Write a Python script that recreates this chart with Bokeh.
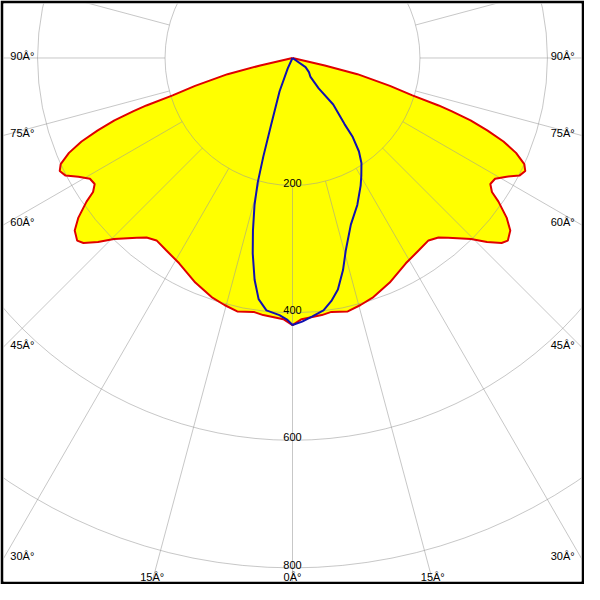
import numpy as np
from bokeh.plotting import figure
from bokeh.embed import file_html
from bokeh.resources import INLINE
from bokeh.core.properties import value

# ---------------- data (gamma in degrees, intensity in cd) ----------------
red_gamma = [0, 2, 6.5, 8.7, 12.3, 15.4, 18.7, 23.4, 28.9, 33.3, 36.7, 39.1, 40.9,
             44.6, 46.6, 48.5, 49.7, 51.6, 53.3, 55.1, 56.1, 57.5, 59.2, 61.0, 62.6,
             64.1, 65.4, 67.0, 68.4, 69.6, 70.7, 71.5, 72.0, 72.7, 74.0, 76.0, 77.0, 80.0]
red_cd = [419, 410, 406, 403, 407, 402, 396, 384, 368, 361, 357, 363, 373,
          399, 420, 438, 443, 436, 419, 394, 377, 368, 370, 384, 401,
          406, 400, 381, 356, 326, 296, 263, 241, 197, 159, 105, 52, 0]

blue_left_gamma = [0, 1.1, 2.9, 5.9, 8.0, 9.7, 11.5, 12.9, 14.5, 15.6, 16.5, 17.8, 21.2, 24.4, 27]
blue_left_cd = [419, 411, 404, 398, 382, 353, 313, 278, 238, 203, 161, 109, 56, 18, 0]

blue_right_gamma = [0, 2.1, 4.3, 7.0, 9.1, 11.1, 13.4, 15.5, 19.3, 23.8, 28.1, 30.3, 33.3,
                    35.4, 37.3, 38.2, 41.2, 40.7, 43.5, 49.4, 55, 60]
blue_right_cd = [419, 414, 407, 399, 386, 370, 342, 313, 277, 252, 227, 214, 197,
                 180, 156, 132, 97, 63, 41, 34, 25, 0]

ring_values = [200, 400, 600, 800]
ring_labels = ["200", "400", "600", "800"]
spoke_angles = list(range(0, 360, 15))
angle_label_values = [0, 15, 30, 45, 60, 75, 90]

# ---------------- layout ----------------
SCALE = 0.655            # reference px per cd
REF = 1.0 / SCALE        # cd per reference px
X_MAX = 297 * REF
Y_TOP = 56 * REF
Y_BOT = -538 * REF
FONT = value("Liberation Sans")


def polar(g, r, side=1):
    g = np.radians(np.asarray(g, dtype=float))
    r = np.asarray(r, dtype=float)
    return side * r * np.sin(g), -r * np.cos(g)


p = figure(width=584, height=584, x_range=(-X_MAX, X_MAX), y_range=(Y_BOT, Y_TOP),
           output_backend="svg", toolbar_location=None, min_border=3,
           border_fill_color="black", background_fill_color="white",
           outline_line_color=None, x_axis_location=None, y_axis_location=None)
p.grid.visible = False

# red / yellow curve (symmetric)
lx, ly = polar(red_gamma[::-1], red_cd[::-1], -1)
rx, ry = polar(red_gamma[1:], red_cd[1:], 1)
red_x = np.concatenate([lx, rx])
red_y = np.concatenate([ly, ry])
p.patch(red_x, red_y, fill_color="#ffff00", line_color=None)

# grid
grid_color = "#999999"
grid_alpha = 0.55
p.circle(x=[0] * len(ring_values), y=[0] * len(ring_values), radius=ring_values,
         fill_color=None, line_color=grid_color, line_alpha=grid_alpha, line_width=1)
sa = np.radians(spoke_angles)
p.segment(x0=200 * np.sin(sa), y0=-200 * np.cos(sa), x1=1500 * np.sin(sa), y1=-1500 * np.cos(sa),
          line_color=grid_color, line_alpha=grid_alpha, line_width=1)

# curves
p.line(red_x, red_y, line_color="#e00000", line_width=2)
bx1, by1 = polar(blue_left_gamma[::-1], blue_left_cd[::-1], -1)
bx2, by2 = polar(blue_right_gamma[1:], blue_right_cd[1:], 1)
p.line(np.concatenate([bx1, bx2]), np.concatenate([by1, by2]), line_color="#1010b0", line_width=2)

# ring labels
p.text(x=[0] * len(ring_values), y=[-r + 3 * REF for r in ring_values], text=ring_labels,
       text_align="center", text_baseline="alphabetic", text_font=FONT,
       text_font_size="11px", text_color="black")

# angle labels
tx, ty, tt, ta = [], [], [], []
for a in angle_label_values:
    sides = [1] if a == 0 else [-1, 1]
    s, c = np.sin(np.radians(a)), np.cos(np.radians(a))
    for side in sides:
        t_side = X_MAX / s if s > 1e-9 else np.inf
        t_bot = -Y_BOT / c if c > 1e-9 else np.inf
        label = f"{a}\u00c2\u00b0"
        if t_side <= t_bot:
            ey = -t_side * c
            tx.append(side * (X_MAX - 7 * REF))
            ty.append(ey + 2.5 * REF)
            ta.append("left" if side < 0 else "right")
        else:
            ex = side * t_bot * s
            tx.append(ex)
            ty.append(Y_BOT + 4.5 * REF)
            ta.append("center")
        tt.append(label)

p.text(x=tx, y=ty, text=tt, text_align=ta, text_baseline="alphabetic",
       text_font=FONT, text_font_size="11px", text_color="black")

with open("out.html", "w", encoding="utf-8") as f:
    f.write(file_html(p, INLINE))
